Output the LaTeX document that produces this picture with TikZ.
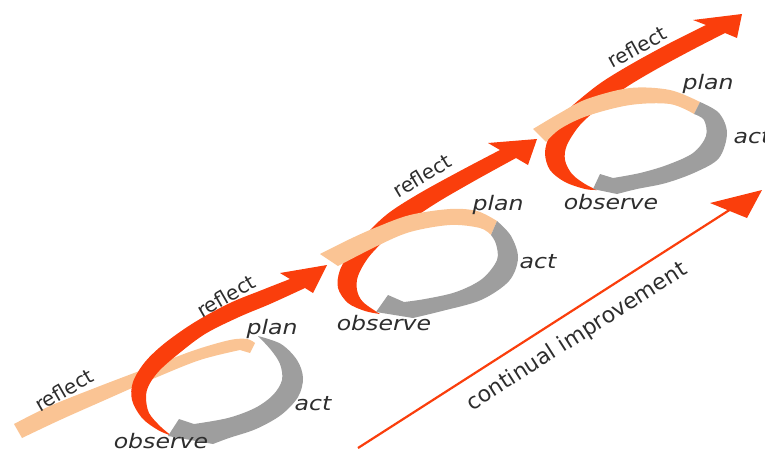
\documentclass[tikz,border=0pt]{standalone}
\usepackage{fontspec}
\setmainfont{DejaVu Sans}[ItalicFont={DejaVu Sans Oblique}]
\definecolor{redc}{RGB}{250,62,12}
\definecolor{peach}{RGB}{250,196,148}
\definecolor{greyc}{RGB}{158,158,158}
\definecolor{txt}{RGB}{45,45,45}
\begin{document}
\begin{tikzpicture}[x=1pt,y=-1pt,
  lbl/.style={text=txt,font=\fontsize{20}{24}\selectfont\itshape,xscale=1.18,inner sep=0pt,anchor=base},
  refl/.style={text=txt,font=\fontsize{20}{24}\selectfont,inner sep=0pt},
  cont/.style={text=txt,font=\fontsize{22}{26}\selectfont,inner sep=0pt},
  sm/.style={smooth,tension=0.55}]
\useasboundingbox (0,0) rectangle (765,453);

% ---------------- cycle 1 ----------------
\fill[peach] plot[sm] coordinates {(14,424) (50,406) (100,386) (150,367) (195,350) (230,340) (247,339) (255,343)}
  -- (250,353)
  -- plot[sm] coordinates {(240,350) (200,360) (155,378) (105,400) (60,420) (22,438)} -- cycle;
\fill[redc] plot[sm] coordinates {(172,436) (158,430) (142,418) (132,400) (133,382) (145,362) (165,343) (195,322) (230,303) (262,290) (290,279)}
  -- (280,273) -- (327,265) -- (313,293)
  -- plot[sm] coordinates {(305,288) (270,304) (239,317) (205,334) (177,355) (159,371) (149,385) (146,397) (149,413) (161,427) (172,436)} -- cycle;
\fill[greyc] plot[sm] coordinates {(258,336) (281,344) (297,360) (303,378) (298,397) (281,415) (256,429) (229,438) (213,444)}
  -- (168,436) -- (179,419)
  -- plot[sm] coordinates {(194,424) (228,418) (255,408) (273,395) (282,380) (280,364) (271,350) (258,336)} -- cycle;

% ---------------- cycle 2 ----------------
\fill[redc] plot[sm] coordinates {(380,314) (365,311) (348,303) (338,288) (340,270) (352,250) (370,230) (390,212) (420,193) (460,171) (500,150)}
  -- (488,143) -- (537,139) -- (528,165)
  -- plot[sm] coordinates {(516,158) (476,180) (438,202) (408,222) (385,240) (368,258) (358,276) (357,290) (363,302) (380,314)} -- cycle;
\fill[peach] plot[sm] coordinates {(320,254) (350,239) (377,227) (410,215) (450,209) (477,211) (497,221)}
  -- plot[sm] coordinates {(491,235) (480,228) (450,225) (410,232) (377,246) (338,266)} -- cycle;
\fill[greyc] plot[sm] coordinates {(497,221) (511,236) (518,258) (509,281) (481,300) (442,311) (413,318)}
  -- (376,312) -- (388,295)
  -- plot[sm] coordinates {(404,302) (425,299) (456,292) (482,279) (497,260) (496,244) (491,235)} -- cycle;

% ---------------- cycle 3 ----------------
\fill[redc] plot[sm] coordinates {(597,190) (585,189) (565,182) (550,170) (545,153) (550,135) (565,113) (585,95) (605,80) (635,62) (670,43) (706,25)}
  -- (693,20) -- (742,14) -- (737,38)
  -- plot[sm] coordinates {(725,33) (690,51) (655,70) (625,88) (600,107) (580,125) (567,145) (565,160) (572,174) (585,184) (597,190)} -- cycle;
\fill[peach] plot[sm] coordinates {(533,129) (560,113) (587,99) (630,88) (670,90) (700,102)}
  -- plot[sm] coordinates {(694,114) (670,104) (630,105) (587,116) (560,129) (546,142)} -- cycle;
\fill[greyc] plot[sm] coordinates {(700,102) (719,113) (727,133) (719,158) (696,172) (666,183) (637,189) (617,194)}
  -- (593,189) -- (600,174)
  -- plot[sm] coordinates {(613,178) (640,173) (667,165) (693,153) (706,136) (704,120) (694,114)} -- cycle;

% ---------------- continual improvement arrow ----------------
\coordinate (ciS) at (358,448);
\coordinate (ciB) at (731,209);
\coordinate (ciT) at (762,190);
\coordinate (ciW1) at (710,203);
\coordinate (ciW2) at (747,218);
\draw[redc,line width=2.2pt] (ciS) -- (ciB);
\fill[redc] (ciW1) -- (ciT) -- (ciW2) -- cycle;
\node[cont,rotate=32.6] (ci) at (577,337) {continual improvement};

% ---------------- labels ----------------
\node[refl,rotate=30] (r0) at (64,390) {reflect};
\node[refl,rotate=30] (r1) at (226,296) {reflect};
\node[refl,rotate=31] (r2) at (422,176) {reflect};
\node[refl,rotate=29] (r3) at (637,47) {reflect};

\node[lbl] (p1) at (272,334) {plan};
\node[lbl] (a1) at (313,410) {act};
\node[lbl] (o1) at (161,448) {observe};
\node[lbl] (p2) at (498,210) {plan};
\node[lbl] (a2) at (538,268) {act};
\node[lbl] (o2) at (384,330) {observe};
\node[lbl] (p3) at (708,89) {plan};
\node[lbl] (a3) at (752,143) {act};
\node[lbl] (o3) at (611,209) {observe};
\end{tikzpicture}
\end{document}
